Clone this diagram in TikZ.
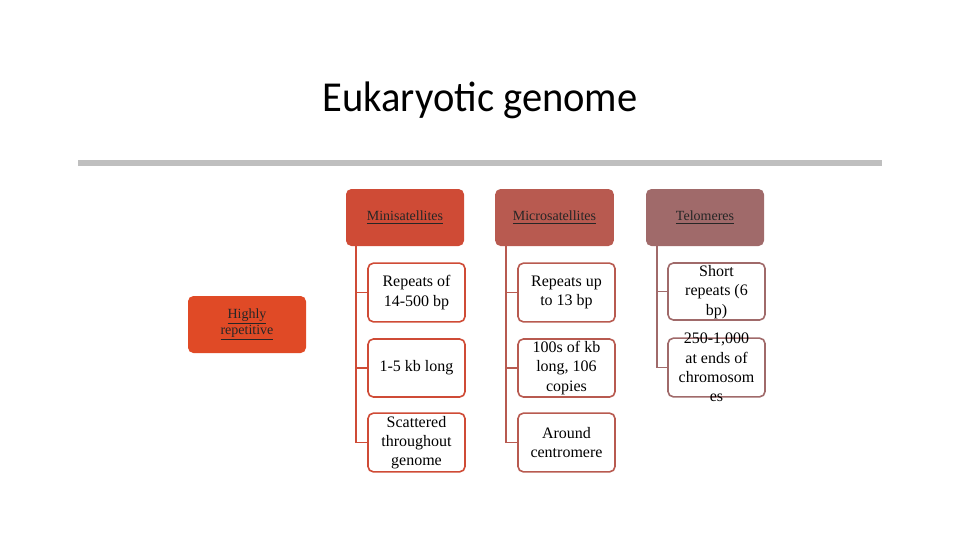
\documentclass[tikz,border=0pt]{standalone}
\usepackage{fontspec}
\setmainfont{Liberation Serif}
\newfontfamily\titlefont{Carlito}
\newcommand{\myul}[1]{\underline{#1}}
\begin{document}
\begin{tikzpicture}[x=0.75pt,y=-0.75pt,
  hdr/.style={draw=none,rounded corners=4pt,font=\fontsize{10.5}{12.5}\selectfont,text=black!85},
  kid/.style={draw=#1,line width=1.2pt,fill=white,rounded corners=4pt,align=center,font=\fontsize{12}{14.5}\selectfont,inner sep=1pt},
  conn/.style={draw=#1,line width=1.2pt}]
\useasboundingbox (0,0) rectangle (960,540);
\definecolor{cA}{HTML}{E04A26}
\definecolor{cM}{HTML}{CF4B36}
\definecolor{cU}{HTML}{B85A50}
\definecolor{cT}{HTML}{A06A6A}
\node[font=\titlefont\fontsize{32}{34}\selectfont,xscale=0.95] (title) at (480,100) {Eukaryotic genome};
\fill[black!25] (78,160) rectangle (882,166);
\node[hdr,fill=cA,minimum width=88.5pt,minimum height=42.75pt,align=center] (hr) at (247,324.5) {\myul{Highly}\\\myul{repetitive}};
\node[hdr,fill=cM,minimum width=88.5pt,minimum height=42.75pt] (m) at (405,217.5) {\myul{Minisatellites}};
\node[hdr,fill=cU,minimum width=89pt,minimum height=42.75pt] (u) at (554.5,217.5) {\myul{Microsatellites}};
\node[hdr,fill=cT,minimum width=88.5pt,minimum height=42.75pt] (t) at (705,217.5) {\myul{Telomeres}};
% mini
\coordinate (mt) at (356,246); \coordinate (mb) at (356,442.5);
\draw[conn=cM] (mt) -- (mb);
\node[kid=cM,minimum width=72.75pt,minimum height=44pt] (m1) at (416.5,292.5) {Repeats of\\14-500 bp};
\node[kid=cM,minimum width=72.75pt,minimum height=43.5pt] (m2) at (416.5,368) {1-5 kb long};
\node[kid=cM,minimum width=72.75pt,minimum height=44pt] (m3) at (416.5,442.5) {Scattered\\throughout\\genome};
\foreach \n in {m1,m2,m3} \draw[conn=cM] (mt|-\n.west) -- (\n.west);
% micro
\coordinate (ut) at (506,246); \coordinate (ub) at (506,442.5);
\draw[conn=cU] (ut) -- (ub);
\node[kid=cU,minimum width=72.75pt,minimum height=44pt] (u1) at (566.5,292.5) {Repeats up\\to 13 bp};
\node[kid=cU,minimum width=72.75pt,minimum height=43.5pt] (u2) at (566.5,368) {100s of kb\\long, 106\\copies};
\node[kid=cU,minimum width=72.75pt,minimum height=44pt] (u3) at (566.5,442.5) {Around\\centromere};
\foreach \n in {u1,u2,u3} \draw[conn=cU] (ut|-\n.west) -- (\n.west);
% telomeres
\coordinate (tt) at (657,246); \coordinate (tb) at (657,367.5);
\draw[conn=cT] (tt) -- (tb);
\node[kid=cT,minimum width=72.75pt,minimum height=42.75pt] (t1) at (716.5,291.5) {};
\node[kid=cT,minimum width=72.75pt,minimum height=44pt] (t2) at (716.5,367.5) {};
\node[font=\fontsize{12}{14.5}\selectfont,align=center] (t1x) at (716.5,292) {Short\\repeats (6\\bp)};
\node[font=\fontsize{12}{14.5}\selectfont,align=center] (t2x) at (716.5,367.5) {250-1,000\\at ends of\\chromosom\\es};
\foreach \n in {t1,t2} \draw[conn=cT] (tt|-\n.west) -- (\n.west);
\end{tikzpicture}
\end{document}
